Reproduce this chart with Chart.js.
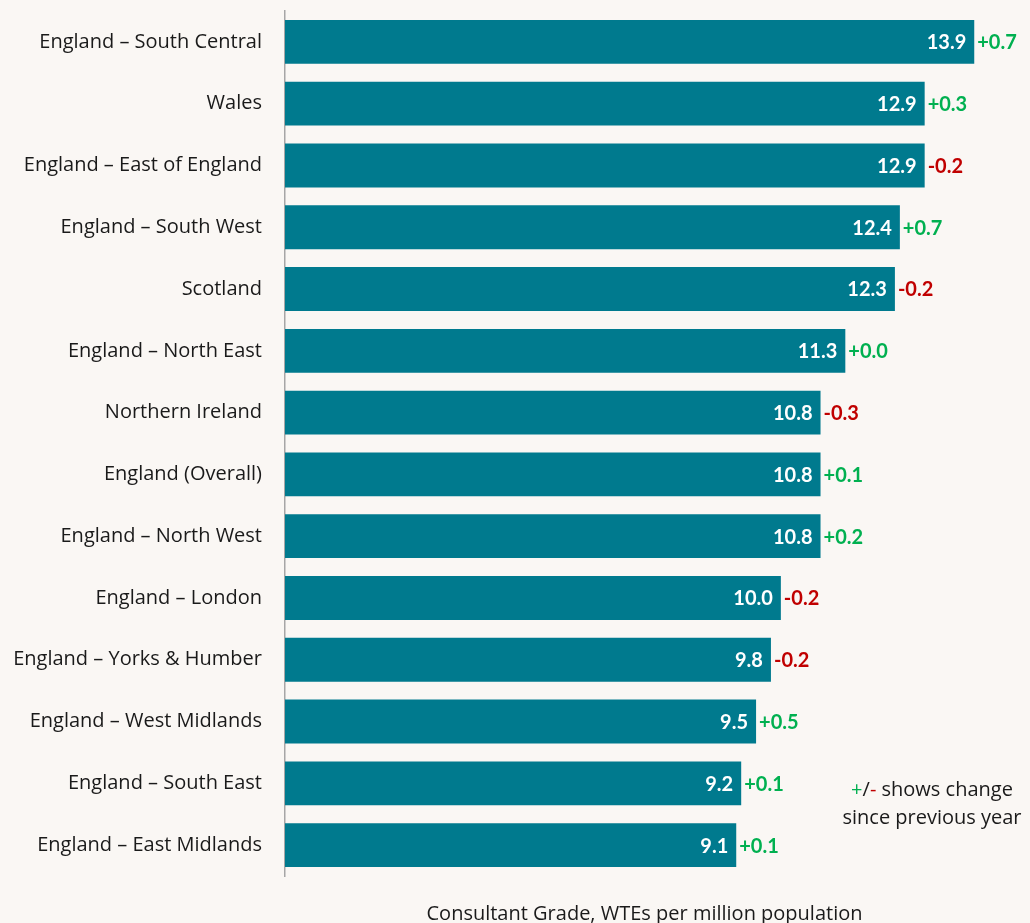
<!DOCTYPE html>
<html>
<head>
<meta charset="utf-8">
<script src="https://cdn.jsdelivr.net/npm/chart.js@4"></script>
<style>
  html, body { margin: 0; padding: 0; background: #faf7f4; }
  #wrap { width: 1030px; height: 923px; }
</style>
</head>
<body>
<div id="wrap"><canvas id="chart" width="1030" height="923"></canvas></div>
<script>
// regions, top to bottom
const regions = [
    "England \u2013 South Central",
    "Wales",
    "England \u2013 East of England",
    "England \u2013 South West",
    "Scotland",
    "England \u2013 North East",
    "Northern Ireland",
    "England (Overall)",
    "England \u2013 North West",
    "England \u2013 London",
    "England \u2013 Yorks & Humber",
    "England \u2013 West Midlands",
    "England \u2013 South East",
    "England \u2013 East Midlands"
];
const wtePerMillion = [13.9, 12.9, 12.9, 12.4, 12.3, 11.3, 10.8, 10.8, 10.8, 10.0, 9.8, 9.5, 9.2, 9.1];
const changeSinceLastYear = [0.7, 0.3, -0.2, 0.7, -0.2, 0.0, -0.3, 0.1, 0.2, -0.2, -0.2, 0.5, 0.1, 0.1];

const FONT = "'Open Sans', sans-serif";
const NUM_FONT = "Lato, 'Open Sans', sans-serif";
const GREEN = '#00b050';
const RED = '#c00000';
const BAR = '#007a8e';
const TEXT = '#1a1a1a';

// value inside bar end + change just outside it
const barLabels = {
    id: 'barLabels',
    afterDatasetsDraw(chart) {
        const ctx = chart.ctx;
        const meta = chart.getDatasetMeta(0);
        ctx.save();
        ctx.font = 'bold 20px ' + NUM_FONT;
        ctx.textBaseline = 'middle';
        meta.data.forEach(function(bar, i) {
            ctx.fillStyle = '#ffffff';
            ctx.textAlign = 'right';
            ctx.fillText(wtePerMillion[i].toFixed(1), bar.x - 8, bar.y + 1);
            var c = changeSinceLastYear[i];
            ctx.fillStyle = c < 0 ? RED : GREEN;
            ctx.textAlign = 'left';
            ctx.fillText((c < 0 ? '-' : '+') + Math.abs(c).toFixed(1), bar.x + 3, bar.y + 1);
        });
        ctx.restore();
    }
};

// "+/- shows change since previous year" note
const note = {
    id: 'note',
    afterDraw(chart) {
        const ctx = chart.ctx;
        const a = chart.chartArea;
        const cx = a.right - 72;
        const y1 = a.bottom - 86;
        ctx.save();
        ctx.font = '20px ' + FONT;
        ctx.textBaseline = 'middle';
        var parts = [['+', GREEN], ['/', TEXT], ['-', RED], [' shows change', TEXT]];
        var total = parts.reduce(function(s, p) { return s + ctx.measureText(p[0]).width; }, 0);
        var x = cx - total / 2;
        ctx.textAlign = 'left';
        parts.forEach(function(p) {
            ctx.fillStyle = p[1];
            ctx.fillText(p[0], x, y1);
            x += ctx.measureText(p[0]).width;
        });
        ctx.textAlign = 'center';
        ctx.fillStyle = TEXT;
        ctx.fillText('since previous year', cx, y1 + 28);
        ctx.restore();
    }
};

new Chart(document.getElementById('chart'), {
    type: 'bar',
    data: {
        labels: regions,
        datasets: [{
            data: wtePerMillion,
            backgroundColor: BAR,
            borderWidth: 0,
            categoryPercentage: 1,
            barPercentage: 0.71
        }]
    },
    options: {
        indexAxis: 'y',
        responsive: false,
        animation: false,
        layout: { padding: { top: 11, right: 26, bottom: 0, left: 0 } },
        plugins: { legend: { display: false }, tooltip: { enabled: false } },
        scales: {
            x: {
                min: 0,
                max: 14.5,
                grid: { display: false },
                border: { display: false },
                ticks: { display: false },
                title: {
                    display: true,
                    text: 'Consultant Grade, WTEs per million population',
                    color: TEXT,
                    font: { family: FONT, size: 20 },
                    padding: { top: 18, bottom: -3 }
                }
            },
            y: {
                grid: { display: false },
                border: { display: true, color: '#a6a6a6', width: 1.5 },
                ticks: {
                    color: TEXT,
                    font: { family: FONT, size: 20 },
                    padding: 15
                },
                afterFit(scale) {
                    scale.width = 285;
                    scale.paddingTop = 0;
                    scale.paddingBottom = 0;
                }
            }
        }
    },
    plugins: [barLabels, note]
});
</script>
</body>
</html>
